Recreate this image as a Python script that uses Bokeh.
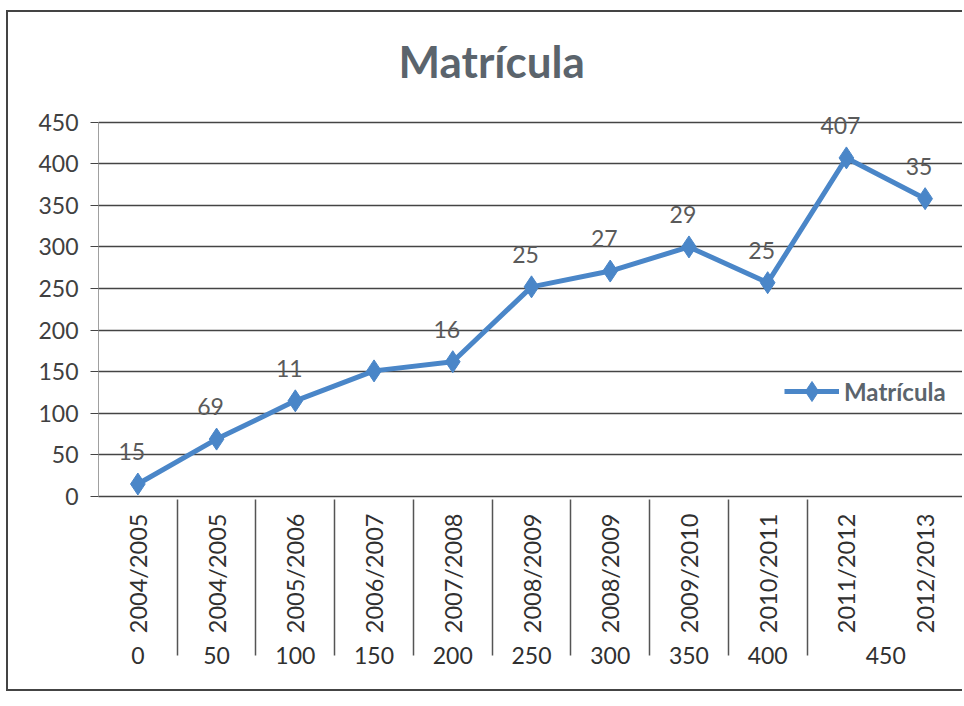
import math
from bokeh.plotting import figure
from bokeh.models import (FactorRange, ColumnDataSource, Legend, LegendItem, Range1d,
                          FixedTicker, LabelSet)
from bokeh.core.properties import value
from bokeh.embed import file_html
from bokeh.resources import INLINE

# ---- data ----
groups = ["0", "50", "100", "150", "200", "250", "300", "350", "400", "450", "450"]
years = ["2004/2005", "2004/2005", "2005/2006", "2006/2007", "2007/2008",
         "2008/2009", "2008/2009", "2009/2010", "2010/2011", "2011/2012", "2012/2013"]
matricula = [15, 69, 115, 151, 162, 252, 271, 300, 257, 407, 358]
point_labels = ["15", "69", "11", "", "16", "25", "27", "29", "25", "407", "35"]
y_ticks = [0, 50, 100, 150, 200, 250, 300, 350, 400, 450]
series_name = "Matrícula"
title_text = "Matrícula"

FONT = "Lato"
BLUE = "#4a86c8"
GREY_TXT = "#5b646c"

factors = list(zip(groups, years))
src = ColumnDataSource(dict(x=factors, y=matricula, label=point_labels))

# a little head-room above 450 so the top data label is not clipped
p = figure(width=956, height=681,
           x_range=FactorRange(*factors, group_padding=0, factor_padding=0, range_padding=0),
           y_range=Range1d(0, 470),
           output_backend="svg", toolbar_location=None,
           min_border_left=90, min_border_right=0, min_border_top=93, min_border_bottom=197)

p.styles = {"margin-left": "6px", "margin-top": "10px",
            "border-left": "2px solid #444", "border-top": "2px solid #444",
            "border-bottom": "2px solid #444"}

p.title.text = title_text
p.title.align = "left"
p.title.offset = 300
p.title.standoff = 33
p.title.vertical_align = "top"
p.title.text_font = FONT
p.title.text_font_size = "44px"
p.title.text_font_style = "bold"
p.title.text_color = GREY_TXT

p.outline_line_color = None
p.xgrid.grid_line_color = None
p.ygrid.grid_line_color = "#444444"
p.ygrid.grid_line_width = 1.5

p.yaxis.ticker = FixedTicker(ticks=y_ticks)
p.yaxis.bounds = (0, 450)
p.yaxis.major_label_text_font = FONT
p.yaxis.major_label_text_font_size = "23px"
p.yaxis.major_label_text_color = "#404040"
p.yaxis.axis_line_color = "#a0a0a0"
p.yaxis.major_tick_out = 8
p.yaxis.major_tick_in = 0
p.yaxis.major_tick_line_color = "#444444"
p.yaxis.minor_tick_line_color = None
p.yaxis.major_label_standoff = 12

p.xaxis.axis_line_color = "#444444"
p.xaxis.axis_line_width = 1.5
p.xaxis.major_tick_line_color = None
p.xaxis.minor_tick_line_color = None
p.xaxis.major_label_orientation = math.pi / 2
p.xaxis.major_label_text_font = FONT
p.xaxis.major_label_text_font_size = "23.5px"
p.xaxis.major_label_text_color = "#303030"
p.xaxis.major_label_standoff = 11
p.xaxis.group_text_font = FONT
p.xaxis.group_text_font_size = "23px"
p.xaxis.group_text_color = "#303030"
p.xaxis.group_text_font_style = "normal"
p.xaxis.separator_line_color = "#555555"
p.xaxis.separator_line_width = 1.5

line_r = p.line("x", "y", source=src, line_color=BLUE, line_width=5)
mark_r = p.scatter("x", "y", source=src, marker="diamond", size=22, color=BLUE)

labels = LabelSet(x="x", y="y", text="label", source=src, text_align="center",
                  text_baseline="bottom", x_offset=-6, y_offset=24,
                  text_font=value(FONT), text_font_size="23px", text_color="#5a5a5a")
p.add_layout(labels)

legend = Legend(items=[LegendItem(label=series_name, renderers=[line_r, mark_r])],
                location=(686, 80), glyph_width=55, glyph_height=50,
                label_text_font=FONT, label_text_font_size="24px",
                label_text_font_style="bold", label_text_color=GREY_TXT,
                background_fill_alpha=0, border_line_color=None)
p.add_layout(legend)

open("out.html", "w").write(file_html(p, INLINE))
